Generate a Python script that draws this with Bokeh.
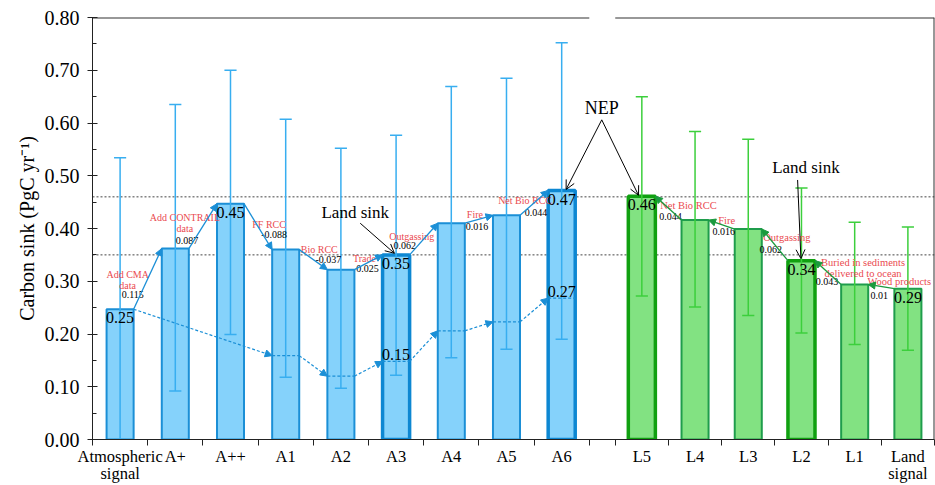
import numpy as np
from bokeh.plotting import figure
from bokeh.models import (FixedTicker, NumeralTickFormatter, ColumnDataSource, Arrow,
                          NormalHead, OpenHead, Span)
from bokeh.embed import file_html
from bokeh.resources import INLINE
from bokeh.core.properties import value

# ---------------- data ----------------
atm_cats = ["Atmospheric\nsignal", "A+", "A++", "A1", "A2", "A3", "A4", "A5", "A6"]
atm_vals = [0.247, 0.362, 0.447, 0.360, 0.322, 0.350, 0.410, 0.425, 0.472]
atm_upper = [0.534, 0.635, 0.700, 0.607, 0.552, 0.577, 0.669, 0.685, 0.752]
atm_lower = [0.0, 0.092, 0.199, 0.118, 0.097, 0.122, 0.155, 0.171, 0.190]
atm_net = [0.247, None, None, 0.159, 0.120, 0.148, 0.206, 0.223, 0.268]
atm_bar_labels = ["0.25", "", "0.45", "", "", "0.35", "", "", "0.47"]
atm_net_labels = ["", "", "", "", "", "0.15", "", "", "0.27"]
atm_bold = [False, False, False, False, False, True, False, False, True]

land_cats = ["L5", "L4", "L3", "L2", "L1", "Land\nsignal"]
land_vals = [0.461, 0.416, 0.399, 0.339, 0.294, 0.286]
land_upper = [0.650, 0.584, 0.569, 0.477, 0.412, 0.403]
land_lower = [0.272, 0.251, 0.235, 0.202, 0.180, 0.169]
land_bar_labels = ["0.46", "", "", "0.34", "", "0.29"]
land_bold = [True, False, False, True, False, False]

atm_steps = ["Add CMA\ndata", "Add CONTRAIL\ndata", "FF RCC", "Bio RCC", "Trade",
             "Outgassing", "Fire", "Net Bio RCC"]
atm_step_vals = ["0.115", "0.087", "-0.088", "-0.037", "0.025", "0.062", "0.016", "0.044"]
land_steps = ["Net Bio RCC", "Fire", "Outgassing", "Buried in sediments\ndelivered to ocean",
              "Wood products"]
land_step_vals = ["0.044", "0.016", "0.062", "0.043", "0.01"]

ref_lines = [0.46, 0.35]
y_ticks = [0.0, 0.1, 0.2, 0.3, 0.4, 0.5, 0.6, 0.7, 0.8]

# ---------------- layout constants ----------------
GAP = 0.47
RU = 0.964
BW = 0.49
CAP = 0.11
xa = np.arange(len(atm_cats)) * 1.0
right_start = len(atm_cats) - 0.5 + GAP
xl = right_start + RU * (np.arange(len(land_cats)) + 0.5)
x_end = right_start + RU * len(land_cats)
bounds = list(np.arange(len(atm_cats) + 1) - 0.5) + list(right_start + RU * np.arange(len(land_cats) + 1))

FONT = "Liberation Serif"
BLUE_FILL = "#85d2fb"
BLUE_LINE = "#1b8fd6"
BLUE_BOLD = "#0d87d2"
BLUE_ERR = "#38aef0"
GREEN_FILL = "#82e282"
GREEN_LINE = "#1f9d4c"
GREEN_BOLD = "#10a010"
GREEN_ERR = "#3ccf3c"
GREEN_ARROW = "#1a9a3e"
RED = "#ea4a50"

p = figure(width=935, height=485, x_range=(-0.5, x_end), y_range=(0, 0.8),
           output_backend="svg", toolbar_location=None,
           min_border_left=92, min_border_right=1, min_border_top=17, min_border_bottom=0)
p.outline_line_color = None
p.grid.visible = False

# x axis: labels at centres, ticks at boundaries
centers = [round(float(v), 4) for v in list(xa) + list(xl)]
ax = p.xaxis[0]
ax.ticker = FixedTicker(ticks=centers, minor_ticks=[round(float(b), 4) for b in bounds])
ax.major_label_overrides = {c: lab for c, lab in zip(centers, atm_cats + land_cats)}
ax.major_tick_out = 0
ax.major_tick_in = 0
ax.minor_tick_out = 6
ax.minor_tick_in = 0
ax.major_label_standoff = 1
ax.major_label_text_font = FONT
ax.major_label_text_font_size = "16.5px"
ax.major_label_text_color = "black"
ax.major_label_text_line_height = 0.9
ax.axis_line_color = "#222222"
ax.minor_tick_line_color = "#222222"

ya = p.yaxis[0]
ya.ticker = FixedTicker(ticks=y_ticks, minor_ticks=[t + 0.05 for t in y_ticks[:-1]])
ya.formatter = NumeralTickFormatter(format="0.00")
ya.major_tick_in = 5
ya.major_tick_out = 5
ya.minor_tick_in = 4
ya.minor_tick_out = 0
ya.major_label_standoff = 8
ya.major_label_text_font = FONT
ya.major_label_text_font_size = "20px"
ya.major_label_text_color = "black"
ya.axis_label = "Carbon sink (PgC yr⁻¹)"
ya.axis_label_text_font = FONT
ya.axis_label_text_font_size = "20px"
ya.axis_label_text_font_style = "normal"
ya.axis_label_text_color = "black"
ya.axis_label_standoff = 4
ya.axis_line_color = "#222222"
ya.major_tick_line_color = "#222222"
ya.minor_tick_line_color = "#222222"

# frame top (broken) and right border
p.segment(x0=[-0.5, right_start], x1=[len(atm_cats) - 0.5, x_end], y0=[0.8, 0.8], y1=[0.8, 0.8],
          line_color="#333333", line_width=2)
p.segment(x0=[x_end], x1=[x_end], y0=[0.0], y1=[0.8], line_color="#333333", line_width=2)

# reference dotted lines
for r in ref_lines:
    p.add_layout(Span(location=r, dimension="width", line_color="#444444", line_width=1,
                      line_dash="2 2", level="underlay"))

# bars
src_a = ColumnDataSource(dict(x=xa, top=atm_vals,
                              lc=[BLUE_BOLD if b else BLUE_LINE for b in atm_bold],
                              lw=[3.5 if b else 2.0 for b in atm_bold]))
p.vbar(x="x", top="top", width=BW, source=src_a, fill_color=BLUE_FILL,
       line_color="lc", line_width="lw")
src_l = ColumnDataSource(dict(x=xl, top=land_vals,
                              lc=[GREEN_BOLD if b else GREEN_LINE for b in land_bold],
                              lw=[3.5 if b else 2.0 for b in land_bold]))
p.vbar(x="x", top="top", width=BW, source=src_l, fill_color=GREEN_FILL,
       line_color="lc", line_width="lw")

# error bars
def errbars(xs, lo, hi, color):
    xs = np.asarray(xs)
    p.segment(x0=xs, x1=xs, y0=lo, y1=hi, line_color=color, line_width=1.5)
    p.segment(x0=xs - CAP, x1=xs + CAP, y0=hi, y1=hi, line_color=color, line_width=1.5)
    p.segment(x0=xs - CAP, x1=xs + CAP, y0=lo, y1=lo, line_color=color, line_width=1.5)

errbars(xa, atm_lower, atm_upper, BLUE_ERR)
errbars(xl, land_lower, land_upper, GREEN_ERR)

# dashed "net" line
net_idx = [i for i, v in enumerate(atm_net) if v is not None]
hx0 = [xa[i] - BW / 2 for i in net_idx[1:]]
hx1 = [xa[i] + BW / 2 for i in net_idx[1:]]
hy = [atm_net[i] for i in net_idx[1:]]
p.segment(x0=hx0, x1=hx1, y0=hy, y1=hy, line_color=BLUE_LINE, line_width=1.2, line_dash="3 2")
net_src = ColumnDataSource(dict(
    x0=[xa[a] + BW / 2 for a in net_idx[:-1]], y0=[atm_net[a] for a in net_idx[:-1]],
    x1=[xa[b] - BW / 2 for b in net_idx[1:]], y1=[atm_net[b] for b in net_idx[1:]]))
p.add_layout(Arrow(source=net_src, x_start="x0", y_start="y0", x_end="x1", y_end="y1",
                   line_color=BLUE_LINE, line_width=1.2, line_dash="3 2",
                   end=NormalHead(size=7, fill_color=BLUE_LINE, line_color=BLUE_LINE, line_width=1)))

# step connectors (atmospheric side, left -> right)
sa = dict(x0=[xa[i] + BW / 2 for i in range(len(atm_cats) - 1)],
          y0=atm_vals[:-1],
          x1=[xa[i + 1] - BW / 2 for i in range(len(atm_cats) - 1)],
          y1=atm_vals[1:])
p.add_layout(Arrow(source=ColumnDataSource(sa), x_start="x0", y_start="y0", x_end="x1", y_end="y1",
                   line_color=BLUE_LINE, line_width=1.3,
                   end=NormalHead(size=7, fill_color=BLUE_LINE, line_color=BLUE_LINE, line_width=1)))
amx = [(a + b) / 2 for a, b in zip(sa["x0"], sa["x1"])]
amy = [(a + b) / 2 for a, b in zip(sa["y0"], sa["y1"])]
A_RED_OFF = [(-20, 1), (-18, -3), (11, -2), (6, -10), (-4, -4), (-12, -3), (-4, -5), (-9, -2)]
A_VAL_OFF = [(-15, 16), (-16, 14), (16, 8), (15, 0), (-1, 6), (-19, 6), (-2, 7), (2, 10)]
p.text(x=amx, y=amy, text=atm_steps, x_offset=[o[0] for o in A_RED_OFF],
       y_offset=[o[1] for o in A_RED_OFF], text_align="center", text_baseline="middle",
       text_font=value(FONT), text_font_size="10px", text_color=RED, text_line_height=1.0)
p.text(x=amx, y=amy, text=atm_step_vals, x_offset=[o[0] for o in A_VAL_OFF],
       y_offset=[o[1] for o in A_VAL_OFF], text_align="center", text_baseline="middle",
       text_font=value(FONT), text_font_size="10px", text_color="black")

# step connectors (land side, right -> left)
sl = dict(x0=[xl[i + 1] - BW / 2 for i in range(len(land_cats) - 1)],
          y0=land_vals[1:],
          x1=[xl[i] + BW / 2 for i in range(len(land_cats) - 1)],
          y1=land_vals[:-1])
p.add_layout(Arrow(source=ColumnDataSource(sl), x_start="x0", y_start="y0", x_end="x1", y_end="y1",
                   line_color=GREEN_ARROW, line_width=1.3,
                   end=NormalHead(size=7, fill_color=GREEN_ARROW, line_color=GREEN_ARROW, line_width=1)))
lmx = [(a + b) / 2 for a, b in zip(sl["x0"], sl["x1"])]
lmy = [(a + b) / 2 for a, b in zip(sl["y0"], sl["y1"])]
L_RED_OFF = [(20, -3), (5, -4), (12, -7), (35, -5), (18, -5)]
L_VAL_OFF = [(2, 8), (2, 7), (-4, 5), (-1, 9), (-2, 9)]
p.text(x=lmx, y=lmy, text=land_steps, x_offset=[o[0] for o in L_RED_OFF],
       y_offset=[o[1] for o in L_RED_OFF], text_align="center", text_baseline="middle",
       text_font=value(FONT), text_font_size="10.5px", text_color=RED, text_line_height=1.0)
p.text(x=lmx, y=lmy, text=land_step_vals, x_offset=[o[0] for o in L_VAL_OFF],
       y_offset=[o[1] for o in L_VAL_OFF], text_align="center", text_baseline="middle",
       text_font=value(FONT), text_font_size="10px", text_color="black")

# value labels on bars
p.text(x=list(xa) + list(xl), y=atm_vals + land_vals, text=atm_bar_labels + land_bar_labels,
       y_offset=3, text_align="center", text_baseline="top",
       text_font=value(FONT), text_font_size="16px", text_color="black")
net_y = [v if v is not None else 0.0 for v in atm_net]
p.text(x=xa, y=net_y, text=atm_net_labels, y_offset=-1, text_align="center",
       text_baseline="bottom", text_font=value(FONT), text_font_size="16px", text_color="black")

# callouts
nep_x = (xa[-1] + xl[0]) / 2
nep_y = 0.628
p.text(x=[nep_x], y=[nep_y], text=["NEP"], text_align="center", text_baseline="middle",
       text_font=value(FONT), text_font_size="18px", text_color="black")
ls1_x, ls1_y = xa[5] - 0.74, 0.431
ls2_x, ls2_y = xl[3] + 0.08, 0.515
p.text(x=[ls1_x, ls2_x], y=[ls1_y, ls2_y], text=["Land sink", "Land sink"], text_align="center",
       text_baseline="middle", text_font=value(FONT), text_font_size="17px", text_color="black")
call = dict(x0=[nep_x, nep_x, ls1_x + 0.09, ls2_x - 0.15],
            y0=[nep_y - 0.022, nep_y - 0.022, ls1_y - 0.021, ls2_y - 0.023],
            x1=[xa[-1] + 0.08, xl[0] - 0.06, xa[5] - 0.03, xl[3] - 0.01],
            y1=[atm_vals[-1] + 0.002, land_vals[0] + 0.002, atm_vals[5] + 0.003, land_vals[3] + 0.004])
p.add_layout(Arrow(source=ColumnDataSource(call), x_start="x0", y_start="y0", x_end="x1", y_end="y1",
                   line_color="black", line_width=1,
                   end=OpenHead(size=9, line_color="black", line_width=1)))

open("out.html", "w").write(file_html(p, INLINE))
